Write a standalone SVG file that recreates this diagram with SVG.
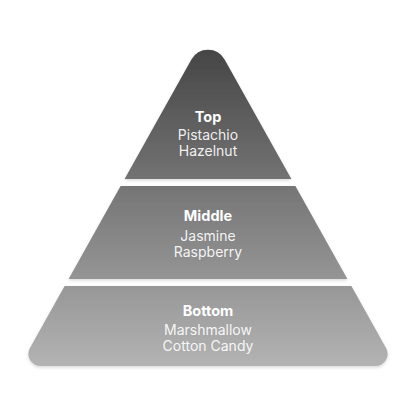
<svg xmlns="http://www.w3.org/2000/svg" width="416" height="416" viewBox="0 0 416 416">
  <defs>
    <linearGradient id="g" gradientUnits="userSpaceOnUse" x1="208" y1="50" x2="208" y2="366">
      <stop offset="0" stop-color="#464646"/>
      <stop offset="1" stop-color="#b3b3b3"/>
    </linearGradient>
    <filter id="sh" x="-10%" y="-10%" width="120%" height="130%">
      <feDropShadow dx="0" dy="1.5" stdDeviation="1.5" flood-color="#000" flood-opacity="0.15"/>
    </filter>
  </defs>
  <style>
    .tier { fill: url(#g); filter: url(#sh); }
    .title { font-family: Inter, "Liberation Sans", sans-serif; font-size: 14.5px; font-weight: 700; fill: #ffffff; text-anchor: middle; }
    .item { font-family: Inter, "Liberation Sans", sans-serif; font-size: 14px; font-weight: 400; fill: #ffffff; fill-opacity: 0.92; text-anchor: middle; }
  </style>
  <rect width="416" height="416" fill="#ffffff"/>
  <g id="top">
    <path class="tier" d="M124.6,179 L191.4,59.6 A19,19 0 0 1 224.6,59.6 L291.4,179 Z"/>
    <text class="title" x="208" y="121.5">Top</text>
    <text class="item" x="208" y="139.5">Pistachio</text>
    <text class="item" x="208" y="155.5">Hazelnut</text>
  </g>
  <g id="middle">
    <path class="tier" d="M120.6,186 L295.4,186 L347.4,279 L68.6,279 Z"/>
    <text class="title" x="208" y="220.5">Middle</text>
    <text class="item" x="208" y="240.5">Jasmine</text>
    <text class="item" x="208" y="257">Raspberry</text>
  </g>
  <g id="bottom">
    <path class="tier" d="M64.6,286 L351.4,286 L386.2,348.2 A12,12 0 0 1 375.8,366 L40.2,366 A12,12 0 0 1 29.8,348.2 Z"/>
    <text class="title" x="208" y="315.5">Bottom</text>
    <text class="item" x="208" y="335">Marshmallow</text>
    <text class="item" x="208" y="350.5">Cotton Candy</text>
  </g>
  <g id="connectors"/>
</svg>
